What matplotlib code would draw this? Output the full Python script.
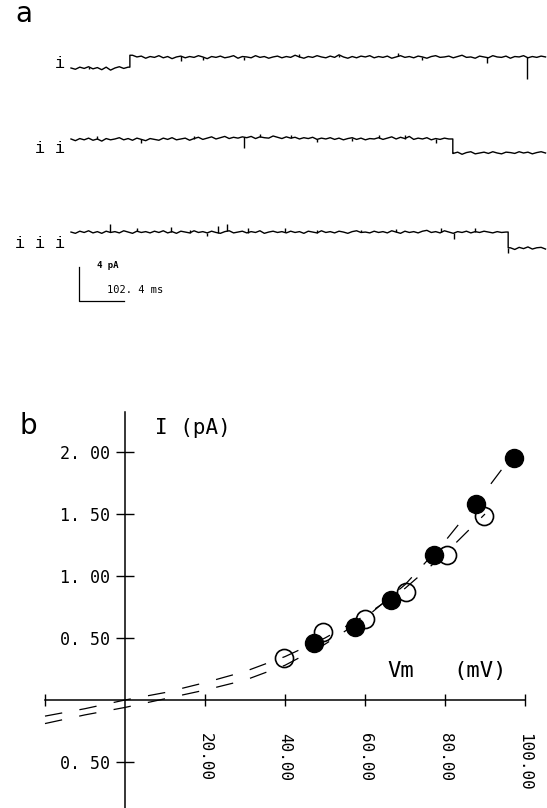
import numpy as np
import matplotlib.pyplot as plt

################################################################################
### data
################################################################################

# panel a: single channel records, current in pA sampled every 10 ms
t_ms = np.arange(0, 1090, 10)

trace_i = [0.0, -0.15, 0.1, -0.05, 0.15, -0.1, 0.05, -0.2, 0.1, -0.25, 0.0, 0.15, -0.05, 0.1,
           1.5, 1.3, 1.4, 1.15, 1.35, 1.25, 1.45, 1.2, 1.35, 1.1,
           1.3, 1.4, 1.2, 1.35, 1.25, 1.45, 1.3, 1.1, 1.35, 1.25,
           1.4, 1.2, 1.3, 1.45, 1.15, 1.35, 1.3, 1.2, 1.45, 1.25,
           1.35, 1.15, 1.3, 1.4, 1.2, 1.35, 1.25, 1.5, 1.3, 1.15,
           1.35, 1.25, 1.45, 1.3, 1.2, 1.4, 1.25, 1.55, 1.3, 1.15,
           1.35, 1.2, 1.4, 1.3, 1.45, 1.2, 1.35, 1.25, 1.4, 1.15,
           1.3, 1.45, 1.25, 1.35, 1.2, 1.4, 1.3, 1.15, 1.35, 1.45,
           1.25, 1.3, 1.4, 1.2, 1.35, 1.5, 1.25, 1.3, 1.15, 1.4,
           1.3, 1.2, 1.45, 1.3, 1.25, 1.4, 1.15, 1.35, 1.3, 1.45,
           1.2, 1.35, 1.25, 1.4, 1.3]

trace_ii = [1.65, 1.45, 1.7, 1.55, 1.75, 1.5, 1.65, 1.4, 1.7, 1.55,
            1.65, 1.8, 1.55, 1.7, 1.5, 1.75, 1.6, 1.45, 1.7, 1.6,
            1.5, 1.75, 1.6, 1.8, 1.55, 1.65, 1.75, 1.5, 1.7, 1.85,
            1.6, 1.75, 1.9, 1.65, 1.8, 1.95, 1.7, 1.85, 1.75, 1.9,
            1.8, 1.95, 1.7, 1.9, 1.8, 1.75, 2.0, 1.85, 1.7, 1.9,
            1.75, 1.85, 1.65, 1.8, 1.7, 1.85, 1.6, 1.75, 1.65, 1.8,
            1.6, 1.75, 1.55, 1.7, 1.8, 1.6, 1.75, 1.55, 1.7, 1.65,
            1.8, 1.6, 1.75, 1.9, 1.65, 1.85, 1.7, 1.95, 1.6, 1.75,
            1.65, 1.8, 1.55, 1.7, 1.6, 1.75, 1.65,
            -0.05, 0.1, -0.15, 0.05, 0.15, -0.1, 0.0, 0.1, -0.05, 0.15, 0.0,
            -0.1, 0.1, 0.05, -0.05, 0.15, 0.0, 0.1, -0.1, 0.05, 0.15, 0.0]

trace_iii = [1.9, 1.75, 2.0, 1.85, 2.05, 1.8, 1.95, 1.75, 2.0, 1.85,
             1.95, 1.8, 2.05, 1.9, 1.75, 2.0, 1.85, 1.95, 1.8, 2.0,
             1.85, 2.05, 1.8, 1.95, 1.75, 2.0, 1.9, 1.8, 2.05, 1.85,
             1.95, 1.8, 2.0, 1.85, 1.75, 1.95, 2.05, 1.8, 1.9, 2.0,
             1.8, 1.95, 1.85, 2.05, 1.75, 1.9, 2.0, 1.85, 1.95, 1.8,
             2.0, 1.85, 1.95, 1.75, 2.0, 1.9, 1.8, 2.05, 1.85, 1.95,
             1.8, 2.0, 1.9, 1.75, 1.95, 2.05, 1.85, 1.9, 1.8, 2.0,
             1.85, 1.95, 1.8, 2.05, 1.9, 1.75, 2.0, 1.85, 1.95, 1.8,
             2.0, 2.1, 1.85, 1.95, 1.8, 2.05, 1.9, 1.75, 1.95, 1.85,
             2.0, 1.8, 1.95, 1.85, 2.0, 1.9, 1.8, 1.95, 1.85, 1.9,
             0.05, -0.15, 0.1, -0.05, 0.15, -0.1, 0.05, 0.1, -0.1]

# time [ms] of the open/close transition in each record
step_t = [134, 869, 995]

# brief spikes on each record: time [ms], amplitude [pA]
spikes_i_t = [40, 251, 300, 394, 520, 610, 744, 800, 946, 1038]
spikes_i_a = [-0.3, -0.5, -0.3, -0.4, 0.3, -0.3, 0.4, -0.3, -0.7, -2.6]
spikes_ii_t = [60, 160, 280, 394, 430, 500, 560, 640, 700, 760, 830]
spikes_ii_a = [0.3, -0.4, 0.3, -1.3, 0.3, 0.4, -0.3, -0.4, 0.3, 0.4, -0.5]
spikes_iii_t = [89, 150, 228, 270, 310, 335, 355, 402, 486, 560, 660, 740, 843, 871, 920, 995]
spikes_iii_a = [1.0, 0.4, 0.6, 0.4, -0.4, 0.8, 0.8, 0.6, 0.5, 0.4, 0.3, 0.4, 0.5, -0.7, 0.4, -0.6]

trace_names = ['i', 'i i', 'i i i']

# panel b: I-V relation
vm_filled = [47.25, 57.5, 66.5, 77.25, 87.75, 97.3]
i_filled = [0.46, 0.59, 0.81, 1.17, 1.58, 1.95]
vm_open = [39.75, 49.5, 60.0, 70.25, 80.5, 89.75]
i_open = [0.34, 0.55, 0.65, 0.87, 1.17, 1.48]

# dashed fitted curves
fit_filled_v = [-20, -10, 0, 10, 20, 30, 40, 50, 60, 70, 80, 90, 97]
fit_filled_i = [-0.19, -0.12, -0.06, 0.01, 0.08, 0.16, 0.28, 0.45, 0.66, 0.93, 1.28, 1.68, 1.98]
fit_open_v = [-20, -10, 0, 10, 20, 30, 40, 50, 60, 70, 80, 90]
fit_open_i = [-0.13, -0.07, 0.0, 0.06, 0.14, 0.23, 0.35, 0.50, 0.68, 0.90, 1.18, 1.50]

xtick_vals = [-20, 20, 40, 60, 80, 100]
xtick_labels = ['', '20.00', '40.00', '60.00', '80.00', '100.00']
ytick_vals = [-0.5, 0.5, 1.0, 1.5, 2.0]
ytick_labels = ['0. 50', '0. 50', '1. 00', '1. 50', '2. 00']

################################################################################
### figure
################################################################################
W, H = 547, 808
fig = plt.figure(figsize=(W / 100, H / 100), dpi=100)
mono = 'DejaVu Sans Mono'

# ---- panel a ----
ms_per_px = 2.276
pa_per_px = 1 / 8.5
top_h = 330
ax_a = fig.add_axes([0, 1 - top_h / H, 1, top_h / H])
ax_a.set_xlim(-71 * ms_per_px, (W - 71) * ms_per_px)
ax_a.set_ylim(-top_h * pa_per_px, 0)
ax_a.axis('off')

offsets = [-8.0, -18.0, -29.2]
traces = [trace_i, trace_ii, trace_iii]
spikes = [(spikes_i_t, spikes_i_a), (spikes_ii_t, spikes_ii_a), (spikes_iii_t, spikes_iii_a)]
for k in range(3):
    y = np.array(traces[k]) + offsets[k]
    j = np.searchsorted(t_ms, step_t[k])
    tx = np.concatenate([t_ms[:j], [step_t[k], step_t[k]], t_ms[j:]])
    ty = np.concatenate([y[:j], [y[j - 1], y[j]], y[j:]])
    ax_a.plot(tx, ty, color='black', lw=1.0)
    st, sa = spikes[k]
    base = np.interp(st, tx, ty)
    ax_a.vlines(st, base, base + np.array(sa), color='black', lw=1.0)
    ax_a.text(-14, offsets[k] + 0.5, trace_names[k], ha='right', va='center',
              family='Liberation Mono', fontsize=12)

# scale bar: 4 pA, 102.4 ms
sb_t, sb_y = 8 * ms_per_px, -301 * pa_per_px
ax_a.plot([sb_t, sb_t, sb_t + 102.4], [sb_y + 4, sb_y, sb_y], color='black', lw=0.9)
ax_a.text(sb_t + 18 * ms_per_px, sb_y + 4.2, '4 pA', family=mono, fontsize=6.5,
          fontweight='bold', va='center')
ax_a.text(sb_t + 28 * ms_per_px, sb_y + 1.3, '102. 4 ms', family=mono, fontsize=7.5,
          va='center')
fig.text(15 / W, 1 - 14 / H, 'a', fontsize=20, va='center', ha='left')

# ---- panel b ----
bot_h = 400
ax = fig.add_axes([0, 0, 1, bot_h / H])
ax.patch.set_alpha(0)
ax.set_xlim(-125 / 4, (W - 125) / 4)
ax.set_ylim(-(808 - 700) / 124, (700 - (808 - bot_h)) / 124)

for s in ['top', 'right']:
    ax.spines[s].set_visible(False)
ax.spines['left'].set_position(('data', 0))
ax.spines['bottom'].set_position(('data', 0))
ax.spines['left'].set_bounds(-0.871, 2.32)
ax.spines['bottom'].set_bounds(-20, 100)
for s in ['left', 'bottom']:
    ax.spines[s].set_linewidth(1.1)

ax.set_xticks(xtick_vals)
ax.set_xticklabels(xtick_labels, rotation=270, family=mono, fontsize=11.5)
ax.set_yticks(ytick_vals)
ax.set_yticklabels(ytick_labels, family=mono, fontsize=12)
ax.tick_params(axis='x', direction='inout', length=9, width=1.0, pad=19)
ax.tick_params(axis='y', direction='inout', length=13, width=1.0, pad=4)

ax.plot(fit_open_v, fit_open_i, color='black', lw=0.9, ls=(0, (14, 14)))
ax.plot(fit_filled_v, fit_filled_i, color='black', lw=0.9, ls=(0, (14, 14)))
ax.plot(vm_open, i_open, 'o', ms=13, mfc='none', mec='black', mew=1.2)
ax.plot(vm_filled, i_filled, 'o', ms=13, color='black')

ax.text(7.5, 2.19, 'I (pA)', family=mono, fontsize=15, va='center', ha='left')
ax.text(65.5, 0.23, 'Vm', family=mono, fontsize=16, va='center', ha='left')
ax.text(82, 0.23, '(mV)', family=mono, fontsize=16, va='center', ha='left')
fig.text(20 / W, 1 - 426 / H, 'b', fontsize=20, va='center', ha='left')

plt.savefig('out.png', dpi=100)
